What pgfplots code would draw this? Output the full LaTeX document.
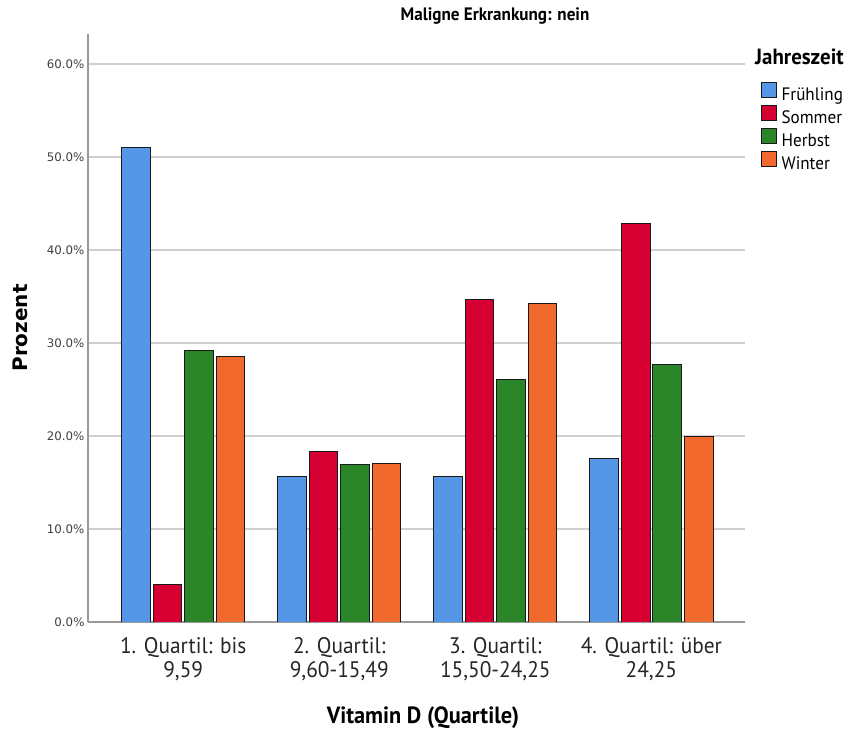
\documentclass[border=0pt]{standalone}
\usepackage{fontspec}
\setmainfont{PT Sans}[FakeStretch=0.95]
\newfontfamily\dejavu{DejaVu Sans}
\usepackage{pgfplots}
\pgfplotsset{compat=1.18}
\definecolor{cF}{HTML}{5596E6}
\definecolor{cS}{HTML}{D60032}
\definecolor{cH}{HTML}{2A8629}
\definecolor{cW}{HTML}{F2692D}
\definecolor{gridgray}{HTML}{D0D0D0}
\definecolor{axgray}{HTML}{999999}
\begin{document}
\begin{tikzpicture}[x=1pt,y=1pt]
\useasboundingbox (0,0) rectangle (852,731);
\begin{axis}[
  at={(88pt,109pt)}, anchor=south west,
  width=657pt, height=588pt, scale only axis,
  ybar=2.9pt, bar width=28.6pt,
  xmin=-0.61, xmax=3.6, ymin=0, ymax=63.2,
  xtick={0,1,2,3},
  xticklabels={{1. Quartil: bis\\9,59},{2. Quartil:\\9,60-15,49},{3. Quartil:\\15,50-24,25},{4. Quartil: über\\24,25}},
  xticklabel style={font=\fontsize{22.5}{24}\selectfont, align=center, text=black!85, yshift=-12pt},
  ytick={0,10,...,60},
  yticklabels={0.0\%,10.0\%,20.0\%,30.0\%,40.0\%,50.0\%,60.0\%},
  yticklabel style={font=\dejavu\fontsize{11.8}{13}\selectfont, text=black!75},
  ymajorgrids, grid style={color=gridgray, line width=1.5pt},
  axis x line*=bottom, axis y line*=left,
  x axis line style={color=axgray, line width=2pt},
  y axis line style={color=axgray, line width=1.2pt},
  major tick length=0pt,
  legend style={at={(1,1)}, anchor=north west, xshift=16pt, yshift=-48pt,
    draw=none, fill=none, inner sep=0pt, row sep=1.1pt, column sep=4.5pt,
    nodes={inner sep=0pt, text height=13pt, text depth=4pt, font=\fontsize{18}{20}\selectfont}},
  legend cell align=left,
  legend image code/.code={\draw[#1, line width=0.9pt] (0pt,-1.5pt) rectangle (15pt,13pt);},
  every axis plot/.append style={draw=black!90, line width=0.8pt},
]
\addplot[fill=cF] coordinates {(0,51.0) (1,15.64) (2,15.64) (3,17.61)};
\addplot[fill=cS] coordinates {(0,4.07) (1,18.32) (2,34.67) (3,42.86)};
\addplot[fill=cH] coordinates {(0,29.18) (1,16.89) (2,26.1) (3,27.67)};
\addplot[fill=cW] coordinates {(0,28.53) (1,17.07) (2,34.28) (3,19.96)};
\legend{Frühling,Sommer,Herbst,Winter}
\end{axis}
\node[font=\bfseries\fontsize{18}{20}\selectfont] at (495,715) {Maligne Erkrankung: nein};
\node[font=\bfseries\fontsize{23.5}{26}\selectfont] at (423,13) {Vitamin D (Quartile)};
\node[font=\dejavu\bfseries\fontsize{20}{22}\selectfont, rotate=90] at (20,403) {Prozent};
\node[font=\bfseries\fontsize{22}{24}\selectfont, anchor=west, inner sep=0pt] at (755,674) {Jahreszeit};
\end{tikzpicture}
\end{document}
